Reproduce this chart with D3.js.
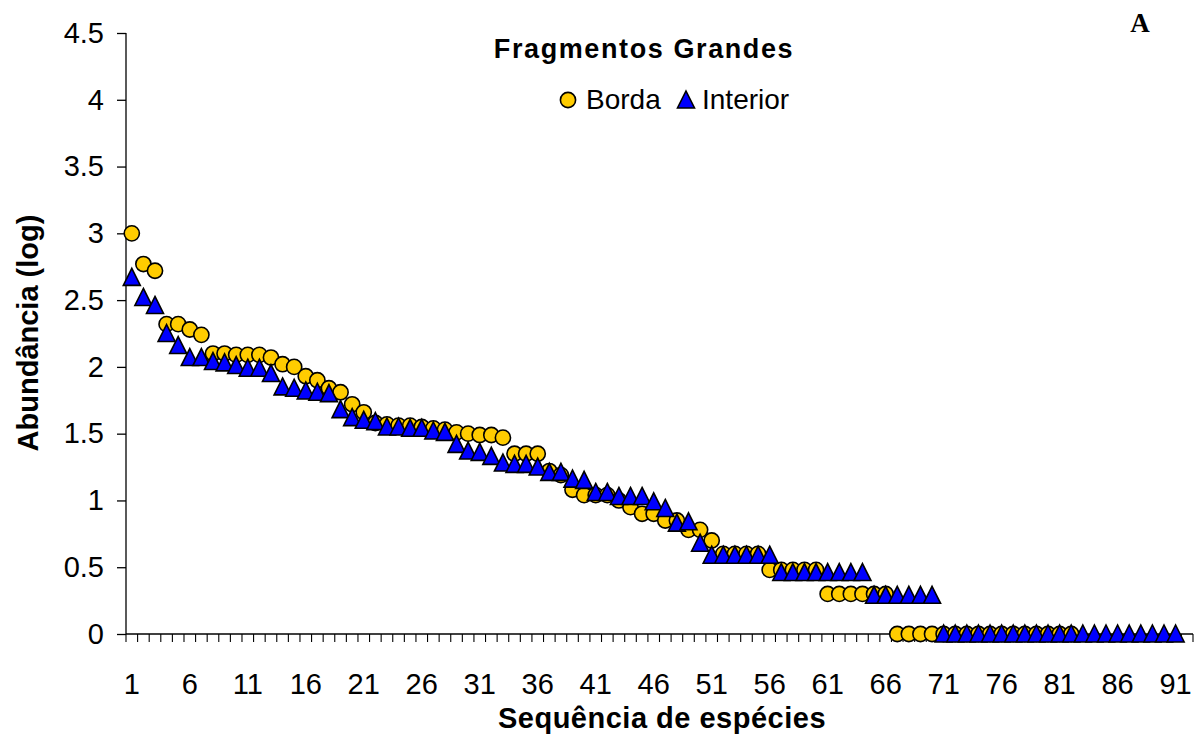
<!DOCTYPE html>
<html>
<head>
<meta charset="utf-8">
<script src="https://cdn.jsdelivr.net/npm/d3@7"></script>
<style>
  body { margin: 0; background: #fff; }
  svg { display: block; font-family: "Liberation Sans", Arial, sans-serif; }
</style>
</head>
<body>
<svg id="chart" width="1203" height="740"></svg>
<script>
// species rank on the x axis (the axis keeps one empty slot after 91)
var especies = d3.range(1, 93);
var xTickLabels = d3.range(1, 92, 5);
var yTicks = [0, 0.5, 1, 1.5, 2, 2.5, 3, 3.5, 4, 4.5];

// log abundance per rank
var borda = [3.00, 2.77, 2.72, 2.32, 2.32, 2.28, 2.24, 2.10, 2.10, 2.09,
             2.09, 2.09, 2.07, 2.02, 2.00, 1.93, 1.90, 1.84, 1.81, 1.72,
             1.66, 1.58, 1.57, 1.56, 1.56, 1.55, 1.54, 1.53, 1.51, 1.50,
             1.49, 1.49, 1.47, 1.35, 1.35, 1.35, 1.22, 1.19, 1.08, 1.04,
             1.04, 1.04, 1.00, 0.95, 0.90, 0.90, 0.85, 0.85, 0.78, 0.78,
             0.70, 0.60, 0.60, 0.60, 0.60, 0.48, 0.48, 0.48, 0.48, 0.48,
             0.30, 0.30, 0.30, 0.30, 0.30, 0.30, 0, 0, 0, 0,
             0, 0, 0, 0, 0, 0, 0, 0, 0, 0,
             0, 0];
var interior = [2.67, 2.52, 2.46, 2.25, 2.16, 2.07, 2.07, 2.04, 2.03, 2.01,
                1.99, 1.99, 1.95, 1.85, 1.84, 1.82, 1.81, 1.80, 1.68, 1.62,
                1.60, 1.59, 1.55, 1.55, 1.54, 1.54, 1.52, 1.51, 1.42, 1.37,
                1.36, 1.33, 1.28, 1.27, 1.27, 1.25, 1.21, 1.21, 1.16, 1.15,
                1.06, 1.06, 1.03, 1.03, 1.03, 0.99, 0.94, 0.83, 0.84, 0.68,
                0.59, 0.59, 0.59, 0.59, 0.59, 0.59, 0.46, 0.46, 0.46, 0.46,
                0.46, 0.46, 0.46, 0.46, 0.29, 0.29, 0.29, 0.29, 0.29, 0.29,
                0, 0, 0, 0, 0, 0, 0, 0, 0, 0,
                0, 0, 0, 0, 0, 0, 0, 0, 0, 0,
                0];

var svg = d3.select('#chart');

var plotLeft = 126, plotRight = 1193, plotTop = 33, plotBottom = 634;

var xScale = d3.scaleBand().domain(especies).range([plotLeft, plotRight]).padding(0);
var yScale = d3.scaleLinear().domain([0, 4.5]).range([plotBottom, plotTop]);
var bw = xScale.bandwidth();
function cx(i) { return xScale(especies[i]) + bw / 2; }

// y axis
var yAxisG = svg.append('g').attr('transform', 'translate(' + plotLeft + ',0)')
  .call(d3.axisLeft(yScale).tickValues(yTicks).tickSize(9).tickPadding(13)
    .tickFormat(function(d) { return String(d); }));
yAxisG.select('.domain').attr('d', 'M0,' + plotTop + 'V' + plotBottom).attr('stroke', '#000').attr('stroke-width', 1.3);
yAxisG.selectAll('.tick line').attr('stroke', '#000').attr('stroke-width', 1.3);
yAxisG.selectAll('.tick text').attr('font-size', 29).attr('fill', '#000')
  .attr('font-family', '"Liberation Sans", Arial, sans-serif');

// x axis: line, a tick between every category, label every 5th
var xAxisG = svg.append('g').attr('transform', 'translate(0,' + plotBottom + ')');
xAxisG.append('line').attr('x1', plotLeft).attr('x2', plotRight).attr('stroke', '#000').attr('stroke-width', 1.3);
var bounds = especies.map(function(d) { return xScale(d); }).concat([plotRight]);
xAxisG.selectAll('.xt').data(bounds).enter().append('line')
  .attr('class', 'xt')
  .attr('x1', function(d) { return d; }).attr('x2', function(d) { return d; })
  .attr('y1', 0).attr('y2', 8)
  .attr('stroke', '#000').attr('stroke-width', 1.1);
xAxisG.selectAll('.xl').data(xTickLabels).enter().append('text')
  .attr('class', 'xl')
  .attr('x', function(d) { return xScale(d) + bw / 2; })
  .attr('y', 60)
  .attr('text-anchor', 'middle')
  .attr('font-size', 29)
  .text(function(d) { return d; });

// axis titles
svg.append('text').attr('x', 662).attr('y', 728).attr('text-anchor', 'middle')
  .attr('font-size', 29).attr('font-weight', 'bold').attr('letter-spacing', 0.5)
  .text('Sequência de espécies');
svg.append('text').attr('transform', 'translate(38,333) rotate(-90)').attr('text-anchor', 'middle')
  .attr('font-size', 29).attr('font-weight', 'bold').text('Abundância (log)');

// markers
var triPath = 'M0,-9L8.5,8L-8.5,8Z';

svg.append('g').selectAll('circle').data(borda).enter().append('circle')
  .attr('cx', function(d, i) { return cx(i); })
  .attr('cy', function(d) { return yScale(d); })
  .attr('r', 7.6)
  .attr('fill', '#FFCC00').attr('stroke', '#000').attr('stroke-width', 1.6);

svg.append('g').selectAll('path').data(interior).enter().append('path')
  .attr('d', triPath)
  .attr('transform', function(d, i) { return 'translate(' + cx(i) + ',' + yScale(d) + ')'; })
  .attr('fill', '#0000FF').attr('stroke', '#000').attr('stroke-width', 1.6)
  .attr('stroke-linejoin', 'miter');

// legend
svg.append('text').attr('x', 644).attr('y', 58).attr('text-anchor', 'middle')
  .attr('font-size', 27).attr('font-weight', 'bold').attr('letter-spacing', 1.6)
  .text('Fragmentos Grandes');
svg.append('circle').attr('cx', 568).attr('cy', 100).attr('r', 7.6)
  .attr('fill', '#FFCC00').attr('stroke', '#000').attr('stroke-width', 1.6);
svg.append('text').attr('x', 586).attr('y', 109).attr('font-size', 28).text('Borda');
svg.append('path').attr('d', triPath).attr('transform', 'translate(686,100)')
  .attr('fill', '#0000FF').attr('stroke', '#000').attr('stroke-width', 1.6);
svg.append('text').attr('x', 702).attr('y', 109).attr('font-size', 28).text('Interior');

svg.append('text').attr('x', 1140).attr('y', 32).attr('text-anchor', 'middle')
  .attr('font-family', '"Liberation Serif", "Times New Roman", serif')
  .attr('font-size', 27).attr('font-weight', 'bold').text('A');
</script>
</body>
</html>
